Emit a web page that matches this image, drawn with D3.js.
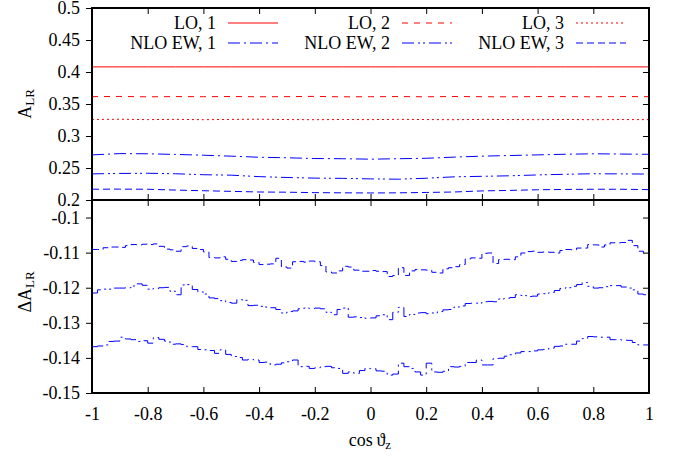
<!DOCTYPE html>
<html>
<head>
<meta charset="utf-8">
<script src="https://cdn.jsdelivr.net/npm/d3@7"></script>
<style>
  body { margin: 0; background: #fff; }
</style>
</head>
<body>
<div id="chart"></div>
<script>
// Data
// =================================
const xTicks = [-1, -0.8, -0.6, -0.4, -0.2, 0, 0.2, 0.4, 0.6, 0.8, 1];
const aTicks = [0.2, 0.25, 0.3, 0.35, 0.4, 0.45, 0.5];
const dTicks = [-0.15, -0.14, -0.13, -0.12, -0.11, -0.1];

const legendLabels = ["LO, 1", "LO, 2", "LO, 3", "NLO EW, 1", "NLO EW, 2", "NLO EW, 3"];

// top panel, sampled every 0.1 in cos theta
const topX = [-1, -0.9, -0.8, -0.7, -0.6, -0.5, -0.4, -0.3, -0.2, -0.1, 0,
              0.1, 0.2, 0.3, 0.4, 0.5, 0.6, 0.7, 0.8, 0.9, 1];
const lo1 = [0.408, 0.408, 0.408, 0.408, 0.408, 0.408, 0.408, 0.408, 0.408, 0.408, 0.408,
             0.408, 0.408, 0.408, 0.408, 0.408, 0.408, 0.408, 0.408, 0.408, 0.408];
const lo2 = [0.3615, 0.3618, 0.3612, 0.3616, 0.3614, 0.3617, 0.3613, 0.3615, 0.3619, 0.3612, 0.3614,
             0.3616, 0.3613, 0.3617, 0.3614, 0.3612, 0.3616, 0.3615, 0.3613, 0.3616, 0.3615];
const lo3 = [0.3258, 0.3262, 0.3256, 0.3260, 0.3255, 0.3259, 0.3262, 0.3257, 0.3255, 0.3258, 0.3256,
             0.3260, 0.3257, 0.3255, 0.3259, 0.3257, 0.3256, 0.3258, 0.3255, 0.3257, 0.3256];
const nlo1 = [0.2705, 0.2725, 0.2722, 0.2712, 0.2700, 0.2685, 0.2668, 0.2660, 0.2648, 0.2645, 0.2638,
              0.2645, 0.2652, 0.2670, 0.2685, 0.2695, 0.2705, 0.2715, 0.2722, 0.2718, 0.2714];
const nlo2 = [0.2408, 0.2415, 0.2418, 0.2410, 0.2395, 0.2388, 0.2365, 0.2352, 0.2342, 0.2338, 0.2330,
              0.2325, 0.2340, 0.2362, 0.2370, 0.2378, 0.2392, 0.2402, 0.2410, 0.2408, 0.2405];
const nlo3 = [0.2168, 0.2170, 0.2168, 0.2155, 0.2145, 0.2135, 0.2125, 0.2122, 0.2115, 0.2112, 0.2110,
              0.2112, 0.2118, 0.2125, 0.2142, 0.2150, 0.2160, 0.2165, 0.2168, 0.2168, 0.2162];

// bottom panel, 100 bins of width 0.02
const binWidth = 0.02;
const dA1 = [
  -0.1368, -0.1366, -0.1363, -0.1353, -0.1352, -0.1341, -0.1346, -0.1348, -0.1353, -0.1351,
  -0.1358, -0.1342, -0.1347, -0.1352, -0.1361, -0.1360, -0.1362, -0.1368, -0.1368, -0.1376,
  -0.1377, -0.1379, -0.1387, -0.1377, -0.1390, -0.1396, -0.1399, -0.1406, -0.1404, -0.1406,
  -0.1413, -0.1412, -0.1420, -0.1418, -0.1414, -0.1411, -0.1406, -0.1425, -0.1424, -0.1430,
  -0.1428, -0.1425, -0.1424, -0.1428, -0.1430, -0.1444, -0.1440, -0.1444, -0.1436, -0.1430,
  -0.1431, -0.1437, -0.1438, -0.1449, -0.1446, -0.1415, -0.1425, -0.1430, -0.1440, -0.1449,
  -0.1415, -0.1440, -0.1441, -0.1438, -0.1425, -0.1426, -0.1424, -0.1413, -0.1413, -0.1406,
  -0.1420, -0.1420, -0.1402, -0.1401, -0.1395, -0.1391, -0.1386, -0.1382, -0.1382, -0.1380,
  -0.1377, -0.1376, -0.1372, -0.1367, -0.1366, -0.1361, -0.1361, -0.1352, -0.1345, -0.1339,
  -0.1340, -0.1341, -0.1341, -0.1348, -0.1348, -0.1349, -0.1350, -0.1356, -0.1363, -0.1363
];
const dA2 = [
  -0.1215, -0.1206, -0.1204, -0.1204, -0.1201, -0.1201, -0.1200, -0.1195, -0.1189, -0.1193,
  -0.1204, -0.1202, -0.1200, -0.1199, -0.1210, -0.1220, -0.1192, -0.1191, -0.1205, -0.1212,
  -0.1218, -0.1229, -0.1231, -0.1237, -0.1242, -0.1244, -0.1234, -0.1236, -0.1251, -0.1250,
  -0.1253, -0.1255, -0.1257, -0.1262, -0.1272, -0.1268, -0.1266, -0.1260, -0.1258, -0.1259,
  -0.1258, -0.1260, -0.1270, -0.1277, -0.1262, -0.1258, -0.1284, -0.1283, -0.1285, -0.1287,
  -0.1286, -0.1280, -0.1277, -0.1291, -0.1270, -0.1256, -0.1282, -0.1276, -0.1272, -0.1271,
  -0.1274, -0.1272, -0.1268, -0.1263, -0.1262, -0.1255, -0.1252, -0.1245, -0.1244, -0.1244,
  -0.1240, -0.1239, -0.1240, -0.1232, -0.1230, -0.1228, -0.1220, -0.1222, -0.1225, -0.1224,
  -0.1218, -0.1217, -0.1214, -0.1208, -0.1202, -0.1200, -0.1196, -0.1191, -0.1185, -0.1196,
  -0.1201, -0.1200, -0.1197, -0.1194, -0.1194, -0.1198, -0.1201, -0.1206, -0.1218, -0.1220
];
const dA3 = [
  -0.1091, -0.1091, -0.1086, -0.1084, -0.1084, -0.1085, -0.1080, -0.1077, -0.1078, -0.1076,
  -0.1077, -0.1075, -0.1082, -0.1090, -0.1092, -0.1096, -0.1083, -0.1081, -0.1088, -0.1091,
  -0.1098, -0.1114, -0.1115, -0.1112, -0.1119, -0.1125, -0.1122, -0.1120, -0.1121, -0.1128,
  -0.1134, -0.1133, -0.1132, -0.1116, -0.1141, -0.1144, -0.1126, -0.1125, -0.1127, -0.1124,
  -0.1126, -0.1137, -0.1155, -0.1158, -0.1152, -0.1139, -0.1141, -0.1150, -0.1153, -0.1153,
  -0.1151, -0.1153, -0.1154, -0.1168, -0.1165, -0.1143, -0.1165, -0.1152, -0.1148, -0.1149,
  -0.1150, -0.1156, -0.1158, -0.1146, -0.1143, -0.1140, -0.1134, -0.1118, -0.1115, -0.1116,
  -0.1102, -0.1101, -0.1131, -0.1120, -0.1119, -0.1120, -0.1112, -0.1101, -0.1097, -0.1096,
  -0.1099, -0.1098, -0.1099, -0.1101, -0.1094, -0.1091, -0.1092, -0.1087, -0.1087, -0.1077,
  -0.1078, -0.1084, -0.1078, -0.1072, -0.1072, -0.1071, -0.1065, -0.1080, -0.1096, -0.1101
];

// Set up chart
// =================================
const svgWidth = 677;
const svgHeight = 457;
const plotLeft = 92, plotRight = 649, plotTop = 8, plotMid = 200, plotBottom = 393;
const serif = "Liberation Serif";

const svg = d3.select("#chart")
  .append("svg")
  .attr("width", svgWidth)
  .attr("height", svgHeight)
  .style("font-family", serif);

const xScale = d3.scaleLinear().domain([-1, 1]).range([plotLeft, plotRight]);
const yTop = d3.scaleLinear().domain([0.2, 0.5]).range([plotMid, plotTop]);
const yBot = d3.scaleLinear().domain([-0.15, -0.095]).range([plotBottom, plotMid]);

const red = "#ff0000";
const blue = "#0000ff";
const styles = [
  { color: red, dash: null },
  { color: red, dash: "6,6" },
  { color: red, dash: "2,3" },
  { color: blue, dash: "12,4,2,4" },
  { color: blue, dash: "12,4,2,3,2,4" },
  { color: blue, dash: "7,4" }
];

// clip paths for panels
const defs = svg.append("defs");
defs.append("clipPath").attr("id", "clipTop").append("rect")
  .attr("x", plotLeft).attr("y", plotTop).attr("width", plotRight - plotLeft).attr("height", plotMid - plotTop);
defs.append("clipPath").attr("id", "clipBot").append("rect")
  .attr("x", plotLeft).attr("y", plotMid).attr("width", plotRight - plotLeft).attr("height", plotBottom - plotMid);

// Axes
// =================================
const fmt = d => String(+d.toFixed(3));

function styleAxis(g) {
  g.attr("font-family", null);
  g.select(".domain").remove();
  g.selectAll("line").attr("stroke", "#000").attr("stroke-width", 1);
  g.selectAll("text").style("font-family", serif).style("font-size", "18px").attr("fill", "#000");
}

// left (outward, labelled)
svg.append("g").attr("transform", `translate(${plotLeft},0)`)
  .call(d3.axisLeft(yTop).tickValues(aTicks).tickSize(6).tickPadding(6).tickFormat(fmt))
  .call(styleAxis);
svg.append("g").attr("transform", `translate(${plotLeft},0)`)
  .call(d3.axisLeft(yBot).tickValues(dTicks).tickSize(6).tickPadding(6).tickFormat(fmt))
  .call(styleAxis);

// right (inward mirror)
svg.append("g").attr("transform", `translate(${plotRight},0)`)
  .call(d3.axisLeft(yTop).tickValues(aTicks).tickSize(6).tickFormat(""))
  .call(styleAxis);
svg.append("g").attr("transform", `translate(${plotRight},0)`)
  .call(d3.axisLeft(yBot).tickValues(dTicks).tickSize(6).tickFormat(""))
  .call(styleAxis);

// x ticks, inward on every horizontal border
svg.append("g").attr("transform", `translate(0,${plotTop})`)
  .call(d3.axisBottom(xScale).tickValues(xTicks).tickSize(6).tickFormat(""))
  .call(styleAxis);
svg.append("g").attr("transform", `translate(0,${plotMid})`)
  .call(d3.axisTop(xScale).tickValues(xTicks).tickSize(6).tickFormat(""))
  .call(styleAxis);
svg.append("g").attr("transform", `translate(0,${plotMid})`)
  .call(d3.axisBottom(xScale).tickValues(xTicks).tickSize(6).tickFormat(""))
  .call(styleAxis);
svg.append("g").attr("transform", `translate(0,${plotBottom})`)
  .call(d3.axisTop(xScale).tickValues(xTicks).tickSize(6).tickFormat(""))
  .call(styleAxis);
svg.append("g").attr("transform", `translate(0,${plotBottom})`)
  .call(d3.axisBottom(xScale).tickValues(xTicks).tickSize(0).tickPadding(14).tickFormat(fmt))
  .call(styleAxis);

// Top panel lines
// =================================
const topSeries = [lo1, lo2, lo3, nlo1, nlo2, nlo3];
const topLine = d3.line()
  .x((d, i) => xScale(topX[i]))
  .y(d => yTop(d));

svg.append("g").attr("clip-path", "url(#clipTop)")
  .selectAll("path")
  .data(topSeries)
  .enter()
  .append("path")
  .attr("d", d => topLine(d))
  .attr("fill", "none")
  .attr("stroke", (d, i) => styles[i].color)
  .attr("stroke-width", 1)
  .attr("stroke-dasharray", (d, i) => styles[i].dash);

// Bottom panel histograms
// =================================
const histLine = d3.line()
  .x(d => xScale(d[0]))
  .y(d => yBot(d[1]))
  .curve(d3.curveStepAfter);

function binPoints(vals) {
  const pts = vals.map((v, i) => [-1 + i * binWidth, v]);
  pts.push([1, vals[vals.length - 1]]);
  return pts;
}

const botSeries = [dA1, dA2, dA3];
svg.append("g").attr("clip-path", "url(#clipBot)")
  .selectAll("path")
  .data(botSeries)
  .enter()
  .append("path")
  .attr("d", d => histLine(binPoints(d)))
  .attr("fill", "none")
  .attr("stroke", blue)
  .attr("stroke-width", 1)
  .attr("stroke-dasharray", (d, i) => styles[i + 3].dash);

// Frame
// =================================
svg.append("rect")
  .attr("x", plotLeft).attr("y", plotTop)
  .attr("width", plotRight - plotLeft).attr("height", plotBottom - plotTop)
  .attr("fill", "none").attr("stroke", "#000").attr("stroke-width", 2);
svg.append("line")
  .attr("x1", plotLeft).attr("x2", plotRight).attr("y1", plotMid).attr("y2", plotMid)
  .attr("stroke", "#000").attr("stroke-width", 2);

// Legend
// =================================
const legend = svg.append("g").attr("class", "legend");
legendLabels.forEach((label, i) => {
  const col = i % 3, row = Math.floor(i / 3);
  const x0 = 228 + col * 174;
  const y0 = 23 + row * 20;
  legend.append("text")
    .attr("x", x0 - 12).attr("y", y0 + 6)
    .attr("text-anchor", "end")
    .style("font-family", serif)
    .style("font-size", "18px")
    .text(label);
  legend.append("line")
    .attr("x1", x0).attr("x2", x0 + 50)
    .attr("y1", y0).attr("y2", y0)
    .attr("stroke", styles[i].color)
    .attr("stroke-width", 1)
    .attr("stroke-dasharray", styles[i].dash);
});

// Axis labels
// =================================
const yLab1 = svg.append("text")
  .attr("transform", "translate(31,104) rotate(-90)")
  .attr("text-anchor", "middle")
  .style("font-family", serif)
  .style("font-size", "18px");
yLab1.append("tspan").text("A");
yLab1.append("tspan").attr("dy", 3).style("font-size", "13px").text("LR");

const yLab2 = svg.append("text")
  .attr("transform", "translate(31,292) rotate(-90)")
  .attr("text-anchor", "middle")
  .style("font-family", serif)
  .style("font-size", "18px");
yLab2.append("tspan").text("\u0394A");
yLab2.append("tspan").attr("dy", 3).style("font-size", "13px").text("LR");

const xLab = svg.append("text")
  .attr("x", 370).attr("y", 446)
  .attr("text-anchor", "middle")
  .style("font-family", serif)
  .style("font-size", "18px");
xLab.append("tspan").text("cos\u2009\u03D1");
xLab.append("tspan").attr("dy", 3).style("font-size", "13px").text("z");
</script>
</body>
</html>
